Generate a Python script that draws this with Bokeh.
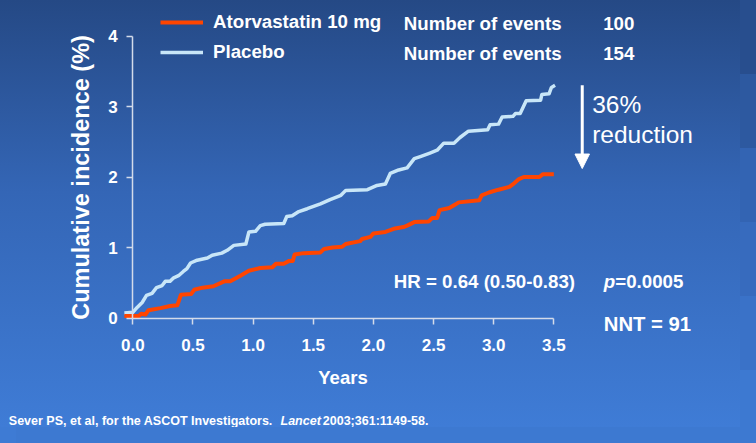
from bokeh.plotting import figure
from bokeh.models import Range1d, Legend, LegendItem, Arrow, NormalHead, FixedTicker, InlineStyleSheet
from bokeh.core.properties import value
from bokeh.embed import file_html
from bokeh.resources import INLINE

# ---------------- data ----------------
placebo_t = [-0.07, 0.0, 0.036, 0.078, 0.114, 0.16, 0.197, 0.244, 0.27, 0.31, 0.34, 0.38, 0.42, 0.45,
             0.48, 0.535, 0.62, 0.66, 0.74, 0.785, 0.84, 0.94, 0.965, 1.02, 1.06, 1.10, 1.255, 1.28,
             1.325, 1.38, 1.45, 1.56, 1.64, 1.73, 1.77, 1.95, 2.03, 2.10, 2.14, 2.21, 2.28, 2.34,
             2.39, 2.47, 2.53, 2.585, 2.67, 2.72, 2.79, 2.95, 2.97, 3.04, 3.07, 3.16, 3.18, 3.22,
             3.27, 3.39, 3.40, 3.46, 3.48, 3.51]
placebo_v = [0.07, 0.08, 0.15, 0.22, 0.32, 0.35, 0.43, 0.46, 0.52, 0.52, 0.57, 0.60, 0.66, 0.70,
             0.78, 0.82, 0.85, 0.89, 0.92, 0.96, 1.03, 1.05, 1.22, 1.23, 1.31, 1.33, 1.34, 1.44,
             1.45, 1.51, 1.55, 1.62, 1.68, 1.74, 1.81, 1.82, 1.88, 1.90, 2.05, 2.10, 2.13, 2.26,
             2.29, 2.34, 2.38, 2.48, 2.48, 2.56, 2.65, 2.67, 2.74, 2.75, 2.85, 2.86, 2.90, 2.90,
             3.08, 3.09, 3.17, 3.18, 3.27, 3.30]

ator_t = [-0.07, 0.05, 0.07, 0.105, 0.13, 0.23, 0.31, 0.37, 0.40, 0.485, 0.51, 0.58, 0.67, 0.76,
          0.81, 0.895, 0.965, 1.06, 1.16, 1.19, 1.255, 1.30, 1.33, 1.345, 1.42, 1.56, 1.59, 1.66,
          1.74, 1.77, 1.89, 1.905, 1.975, 2.00, 2.10, 2.18, 2.25, 2.28, 2.34, 2.46, 2.49, 2.53,
          2.55, 2.63, 2.67, 2.71, 2.88, 2.90, 2.96, 3.04, 3.13, 3.17, 3.21, 3.25, 3.38, 3.41, 3.50]
ator_v = [0.03, 0.03, 0.06, 0.05, 0.11, 0.14, 0.17, 0.18, 0.33, 0.34, 0.40, 0.43, 0.45, 0.52,
          0.52, 0.60, 0.67, 0.71, 0.72, 0.77, 0.77, 0.81, 0.81, 0.90, 0.92, 0.93, 0.98, 1.00,
          1.01, 1.05, 1.09, 1.12, 1.15, 1.20, 1.22, 1.27, 1.29, 1.31, 1.36, 1.37, 1.42, 1.42,
          1.53, 1.56, 1.60, 1.64, 1.67, 1.74, 1.78, 1.82, 1.86, 1.91, 1.97, 2.00, 2.00, 2.04, 2.04]

series_names = ["Atorvastatin 10 mg", "Placebo"]
events = ["100", "154"]
x_ticks = [0.0, 0.5, 1.0, 1.5, 2.0, 2.5, 3.0, 3.5]
x_tick_labels = ["0.0", "0.5", "1.0", "1.5", "2.0", "2.5", "3.0", "3.5"]
y_ticks = [0, 1, 2, 3, 4]
y_tick_labels = ["0", "1", "2", "3", "4"]
reduction_text = ["36%", "reduction"]
hr_text = "HR = 0.64 (0.50-0.83)"
p_text = "=0.0005"
nnt_text = "NNT = 91"
arrow_x = 3.736
arrow_top = 3.30
arrow_tip = 2.12

# ---------------- layout ----------------
W, H = 740, 427
OX, OY = 132.3, 317.5       # pixel of (0, 0)
KX, KY = 120.3, 70.5        # pixels per unit


def dx(px):
    return (px - OX) / KX


def dy(py):
    return (OY - py) / KY


FONT = value("Liberation Sans")
WHITE = "#ffffff"
AXIS = "#d3dbea"

# background gradient; page strips right/below the figure are filled by banded shadows
bands = [(74, "#284e8e"), (148, "#2d59a0"), (222, "#3364b3"), (296, "#376bbe"),
         (370, "#3a72c8"), (443, "#3d79d1")]
shadows = ", ".join(f"16px {b - H}px 0 0 {c}" for b, c in bands) + ", 0 16px 0 0 #3e7bd4"
host_css = InlineStyleSheet(css=f""":host {{
  background: linear-gradient(180deg, #254985 0%, #3466b6 45%, #3f7cd6 100%);
  box-shadow: {shadows};
}}""")

p = figure(width=W, height=H, x_range=Range1d(dx(0), dx(W)), y_range=Range1d(dy(H), dy(0)),
           output_backend="svg", toolbar_location=None, min_border=0,
           stylesheets=[host_css])
p.background_fill_alpha = 0
p.border_fill_alpha = 0
p.outline_line_color = None
p.grid.visible = False

# axes
for ax in (p.xaxis[0], p.yaxis[0]):
    ax.fixed_location = 0
    ax.axis_line_color = AXIS
    ax.axis_line_width = 1.5
    ax.major_tick_line_color = AXIS
    ax.major_tick_line_width = 1.5
    ax.major_tick_out = 6
    ax.major_tick_in = 0
    ax.minor_tick_line_color = None
    ax.major_label_text_color = WHITE
    ax.major_label_text_font = "Liberation Sans"
    ax.major_label_text_font_style = "bold"
    ax.major_label_text_font_size = "17px"
    ax.axis_label_text_color = WHITE
    ax.axis_label_text_font = "Liberation Sans"
    ax.axis_label_text_font_style = "bold"

xa = p.xaxis[0]
xa.bounds = (0, 3.5)
xa.ticker = FixedTicker(ticks=x_ticks)
xa.major_label_overrides = {t: s for t, s in zip(x_ticks, x_tick_labels)}
xa.major_label_standoff = 15
xa.axis_label = "Years"
xa.axis_label_text_font_size = "18.5px"
xa.axis_label_standoff = 12

ya = p.yaxis[0]
ya.bounds = (0, 4)
ya.ticker = FixedTicker(ticks=y_ticks)
ya.major_label_overrides = {t: s for t, s in zip(y_ticks, y_tick_labels)}
ya.major_label_standoff = 9
ya.axis_label = "Cumulative incidence (%)"
ya.axis_label_text_font_size = "23.5px"
ya.axis_label_standoff = 11

# curves
r_plac = p.line(placebo_t, placebo_v, line_color="#c8e6f8", line_width=3.5, line_join="round")
r_ator = p.line(ator_t, ator_v, line_color="#ff4500", line_width=4, line_join="round")

legend = Legend(items=[LegendItem(label=series_names[0], renderers=[r_ator]),
                       LegendItem(label=series_names[1], renderers=[r_plac])],
                location=(160, H - 7.2 - 60), orientation="vertical",
                glyph_width=43, glyph_height=30, label_height=30, label_standoff=10,
                spacing=0, padding=0, margin=0,
                border_line_color=None, background_fill_alpha=0,
                label_text_font="Liberation Sans", label_text_font_style="bold",
                label_text_font_size="18.7px", label_text_color=WHITE)
p.add_layout(legend)


def put(px, py_center, txt, size, style="bold"):
    """Write texts whose left edge is px and whose vertical centre is py_center (pixels)."""
    p.text(x=[dx(v) for v in px], y=[dy(v) for v in py_center], text=txt,
           text_font=FONT, text_font_style=style, text_font_size=size,
           text_color=WHITE, text_baseline="middle", text_align="left")


# header columns
put([403.3, 403.3], [22.6, 52.6], ["Number of events"] * 2, "18.7px")
put([602.7, 602.7], [22.6, 52.6], events, "18.7px")

# reduction arrow + text
p.add_layout(Arrow(end=NormalHead(size=14.5, fill_color=WHITE, line_color=WHITE, line_width=1),
                   x_start=arrow_x, y_start=arrow_top, x_end=arrow_x, y_end=arrow_tip,
                   line_color=WHITE, line_width=3))
put([591.7, 591.7], [104.1, 134.1], reduction_text, "24.5px", "normal")

# statistics
put([393.3], [280.8], [hr_text], "18.7px")
put([603.3], [280.8], ["p"], "18.7px", "bold italic")
put([614.8], [280.8], [p_text], "18.7px")
put([603.3], [323.6], [nnt_text], "20.3px")

# footnote
put([8.3], [420.0], ["Sever PS, et al, for the ASCOT Investigators."], "12.5px")
put([280], [420.0], ["Lancet"], "12.5px", "bold italic")
put([322.3], [420.0], ["2003;361:1149-58."], "12.5px")

open("out.html", "w").write(file_html(p, INLINE))
